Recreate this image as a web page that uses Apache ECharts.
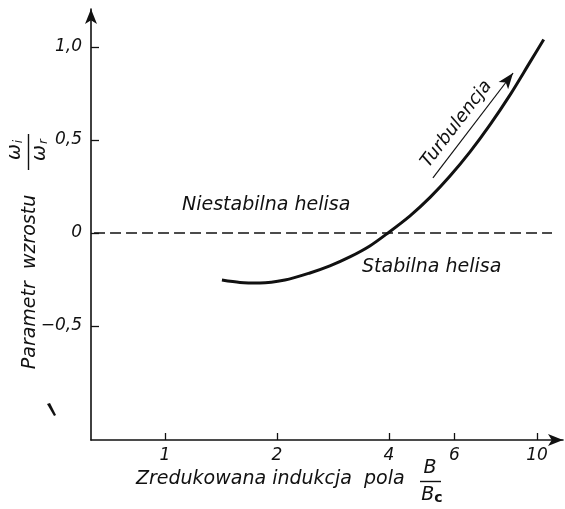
<!DOCTYPE html>
<html><head><meta charset="utf-8">
<script src="https://cdn.jsdelivr.net/npm/echarts@6/dist/echarts.min.js"></script>
<style>html,body{margin:0;padding:0;background:#fff}#c{width:565px;height:509px}</style>
</head><body><div id="c"></div>
<script>
// Data
const curveX = [1.423, 1.591, 1.800, 2.101, 2.453, 2.775, 3.140, 3.553, 3.976, 4.557, 5.158, 5.835, 6.604, 7.470, 8.453, 9.563, 10.42];
const curveY = [-0.253, -0.266, -0.269, -0.253, -0.215, -0.177, -0.129, -0.070, 0.0, 0.092, 0.191, 0.306, 0.436, 0.581, 0.741, 0.917, 1.040];
const xTicks = [1, 2, 4, 6, 10];
const yTicks = [-0.5, 0, 0.5, 1.0];
const zeroLineX = [0.645, 10.97];
const arrowStart = [5.25, 0.296];
const arrowEnd = [8.62, 0.860];

const FONT = 'DejaVu Sans';
const INK = '#111';

const chart = echarts.init(document.getElementById('c'), null, {renderer: 'canvas'});
const curve = curveX.map((x, i) => [x, curveY[i]]);

chart.setOption({
  backgroundColor: '#fff',
  animation: false,
  grid: {left: 91, right: 2, top: 9, bottom: 69},
  xAxis: {
    type: 'log', logBase: 2, min: 0.633, max: 11.74,
    axisLine: {onZero: false, lineStyle: {color: INK, width: 1.6}, symbol: ['none', 'arrow'], symbolSize: [9, 15]},
    axisTick: {inside: true, length: 7, lineStyle: {color: INK, width: 1.3}, customValues: xTicks},
    axisLabel: {customValues: xTicks, color: INK, fontFamily: FONT, fontStyle: 'italic', fontSize: 17, margin: 7,
      formatter: v => String(Math.round(v))},
    splitLine: {show: false}
  },
  yAxis: {
    type: 'value', min: -1.113, max: 1.204,
    axisLine: {lineStyle: {color: INK, width: 1.6}, symbol: ['none', 'arrow'], symbolSize: [9, 15]},
    axisTick: {inside: true, length: 8, lineStyle: {color: INK, width: 1.3}, customValues: yTicks},
    axisLabel: {customValues: yTicks, color: INK, fontFamily: FONT, fontStyle: 'italic', fontSize: 17, margin: 9,
      formatter: v => v === 0 ? '0' : v.toFixed(1).replace('.', ',').replace('-', '\u2212')},
    splitLine: {show: false}
  },
  series: [
    {
      type: 'line', data: zeroLineX.map(x => [x, 0]), symbol: 'none', silent: true,
      lineStyle: {color: INK, width: 1.5, type: [11, 5]}
    },
    {
      type: 'line', data: curve, smooth: 0.3, symbol: 'none',
      lineStyle: {color: INK, width: 3},
      markLine: {
        silent: true, symbol: ['none', 'arrow'], symbolSize: [9, 16],
        lineStyle: {color: INK, width: 1.2, type: 'solid'},
        label: {show: true, position: 'insideStartTop', formatter: 'Turbulencja', color: INK,
          fontFamily: FONT, fontStyle: 'italic', fontSize: 18, distance: 5},
        data: [[{coord: arrowStart}, {coord: arrowEnd}]]
      }
    }
  ],
  graphic: [
    {type: 'text', left: 182, top: 196, style: {text: 'Niestabilna helisa', fill: INK, font: 'italic 19px "DejaVu Sans"'}},
    {type: 'text', left: 362, top: 258, style: {text: 'Stabilna helisa', fill: INK, font: 'italic 19px "DejaVu Sans"'}},
    {type: 'text', x: 30, y: 282, rotation: Math.PI / 2,
      style: {text: 'Parametr  wzrostu', fill: INK, font: 'italic 19px "DejaVu Sans"', align: 'center', verticalAlign: 'middle'}},
    {type: 'text', x: 15, y: 150, rotation: Math.PI / 2,
      style: {text: '\u03c9{s|i}', fill: INK, font: 'italic 19px "DejaVu Sans"', align: 'center', verticalAlign: 'middle',
        rich: {s: {font: 'italic 12px "DejaVu Sans"', padding: [8, 0, 0, 1]}}}},
    {type: 'line', shape: {x1: 28.5, y1: 134, x2: 28.5, y2: 170}, style: {stroke: INK, lineWidth: 1.4}},
    {type: 'text', x: 40, y: 150, rotation: Math.PI / 2,
      style: {text: '\u03c9{s|r}', fill: INK, font: 'italic 19px "DejaVu Sans"', align: 'center', verticalAlign: 'middle',
        rich: {s: {font: 'italic 12px "DejaVu Sans"', padding: [8, 0, 0, 1]}}}},
    {type: 'text', left: 136, top: 470, style: {text: 'Zredukowana indukcja  pola', fill: INK, font: 'italic 19px "DejaVu Sans"'}},
    {type: 'text', x: 430, y: 468, style: {text: 'B', fill: INK, font: 'italic 19px "DejaVu Sans"', align: 'center', verticalAlign: 'middle'}},
    {type: 'line', shape: {x1: 420, y1: 481.5, x2: 441, y2: 481.5}, style: {stroke: INK, lineWidth: 1.4}},
    {type: 'text', x: 432, y: 495, style: {text: 'B{c|c}', fill: INK, font: 'italic 19px "DejaVu Sans"', align: 'center', verticalAlign: 'middle',
      rich: {c: {font: 'bold 14px "DejaVu Sans"', padding: [6, 0, 0, 0]}}}},
    {type: 'polygon', shape: {points: [[47, 404], [50, 403], [56, 415], [54, 416]]}, style: {fill: INK}}
  ]
});
</script>
</body></html>
